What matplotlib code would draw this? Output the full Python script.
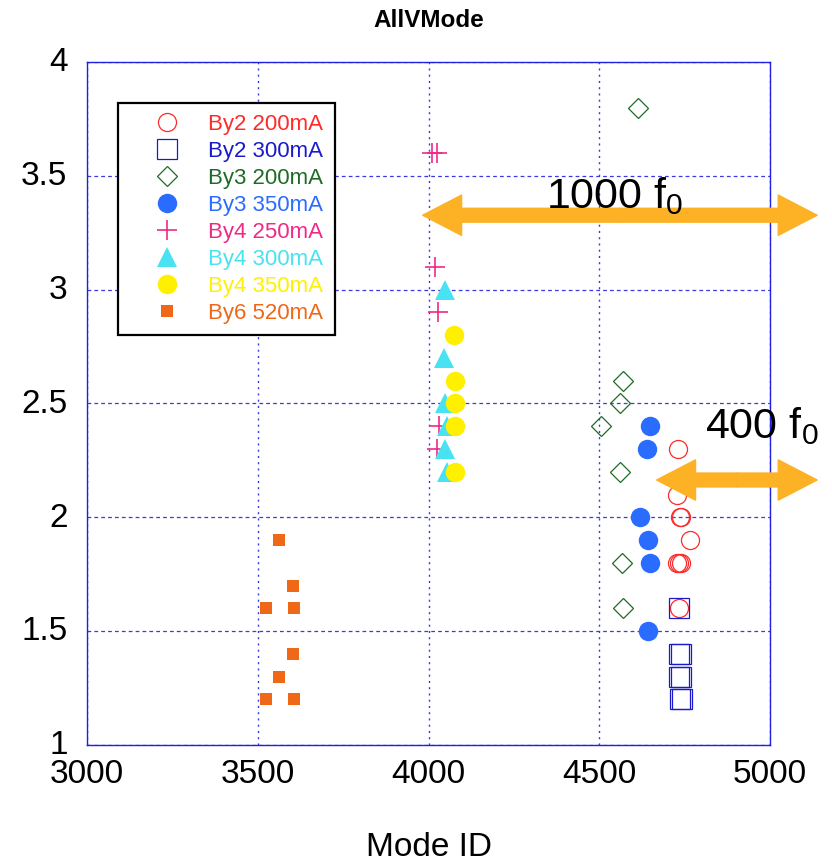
#AllVMode scatter chart
import matplotlib
matplotlib.use("Agg")
import matplotlib.pyplot as plt
from matplotlib.transforms import ScaledTranslation

plt.rcParams['font.family'] = 'Liberation Sans'
plt.rcParams['mathtext.default'] = 'regular'

#Series: (label, x values, y values)
labels = ["By2 200mA", "By2 300mA", "By3 200mA", "By3 350mA",
          "By4 250mA", "By4 300mA", "By4 350mA", "By6 520mA"]

by2_200_x = [4732, 4727, 4735, 4740, 4765, 4728, 4733, 4738, 4733]
by2_200_y = [2.3, 2.1, 2.0, 2.0, 1.9, 1.8, 1.8, 1.8, 1.6]

by2_300_x = [4733, 4733, 4740, 4733, 4738, 4735, 4741]
by2_300_y = [1.6, 1.4, 1.4, 1.3, 1.3, 1.2, 1.2]

by3_200_x = [4614, 4570, 4561, 4505, 4561, 4566, 4570]
by3_200_y = [3.8, 2.6, 2.5, 2.4, 2.2, 1.8, 1.6]

by3_350_x = [4649, 4639, 4619, 4644, 4649, 4644]
by3_350_y = [2.4, 2.3, 2.0, 1.9, 1.8, 1.5]

by4_250_x = [4009, 4024, 4019, 4027, 4032, 4024]
by4_250_y = [3.6, 3.6, 3.1, 2.9, 2.4, 2.3]

by4_300_x = [4048, 4046, 4048, 4053, 4048, 4053]
by4_300_y = [3.0, 2.7, 2.5, 2.4, 2.3, 2.2]

by4_350_x = [4075, 4077, 4078, 4078, 4077]
by4_350_y = [2.8, 2.6, 2.5, 2.4, 2.2]

by6_520_x = [3563, 3602, 3523, 3607, 3602, 3563, 3523, 3607]
by6_520_y = [1.9, 1.7, 1.6, 1.6, 1.4, 1.3, 1.2, 1.2]

xs = [by2_200_x, by2_300_x, by3_200_x, by3_350_x, by4_250_x, by4_300_x, by4_350_x, by6_520_x]
ys = [by2_200_y, by2_300_y, by3_200_y, by3_350_y, by4_250_y, by4_300_y, by4_350_y, by6_520_y]

colors = ["#ff2a2a", "#1a1acc", "#1d6b25", "#2a6cff", "#ee2a86", "#48e2f2", "#fff000", "#ee6818"]
markers = ["o", "s", "D", "o", "+", "^", "o", "s"]
sizes = [13, 14, 10, 14, 14, 14, 14, 9]
filled = [False, False, False, True, True, True, True, True]

x_ticks = [3000, 3500, 4000, 4500, 5000]
y_ticks = [1, 1.5, 2, 2.5, 3, 3.5, 4]
y_tick_labels = ["1", "1.5", "2", "2.5", "3", "3.5", "4"]

#Annotation arrows: left end, right end, y, label and its position
arrow_left = [3983, 4668]
arrow_right = [5138, 5138]
arrow_y = [3.327, 2.164]
arrow_text = ["1000 f$_0$", "400 f$_0$"]
text_x = [4344, 4810]
text_y = [3.358, 2.346]

fig = plt.figure(figsize=(8.32, 8.63), dpi=100)
ax = fig.add_axes([87/832, 1-745/863, 683/832, 683/863])

for i in range(len(labels)):
    if filled[i]:
        ax.plot(xs[i], ys[i], linestyle="none", marker=markers[i], markersize=sizes[i],
                color=colors[i], markeredgewidth=1.2 if markers[i] == "+" else 0, label=labels[i])
    else:
        ax.plot(xs[i], ys[i], linestyle="none", marker=markers[i], markersize=sizes[i],
                markerfacecolor="none", markeredgecolor=colors[i], markeredgewidth=0.9, label=labels[i])

ax.set_xlim(3000, 5000)
ax.set_ylim(1, 4)
ax.set_xticks(x_ticks)
ax.set_yticks(y_ticks)
ax.set_yticklabels(y_tick_labels)
ax.tick_params(axis="both", length=0, labelsize=24)
ax.tick_params(axis="x", pad=10)
ax.tick_params(axis="y", pad=14)
#y labels sit a little above their ticks in the original
for lab in ax.get_yticklabels():
    lab.set_transform(lab.get_transform() + ScaledTranslation(0, 2/72, fig.dpi_scale_trans))

#Grid: dotted verticals, dashed horizontals
ax.xaxis.grid(True, color="#3a3ae0", linestyle=(0, (1.5, 3)), linewidth=1.0)
ax.yaxis.grid(True, color="#3a3ae0", linestyle=(0, (3, 2.5)), linewidth=0.9)
ax.set_axisbelow(True)
for s in ax.spines.values():
    s.set_color("#2020e0")
    s.set_linewidth(1.0)

ax.set_title("AllVMode", fontsize=17.5, fontweight="bold", pad=25)
ax.set_xlabel("Mode ID", fontsize=24, labelpad=30)

#Double headed arrows, each drawn as two halves from the middle
for i in range(len(arrow_y)):
    mid = (arrow_left[i] + arrow_right[i]) / 2
    for end in [arrow_left[i], arrow_right[i]]:
        ax.annotate("", xy=(end, arrow_y[i]), xytext=(mid, arrow_y[i]),
                    arrowprops=dict(arrowstyle="simple,head_length=2.8,head_width=2.9,tail_width=1.0",
                                    color="#fdb125", shrinkA=0, shrinkB=0, mutation_scale=10),
                    annotation_clip=False, zorder=5)
    ax.text(text_x[i], text_y[i], arrow_text[i], fontsize=31, va="baseline", ha="left", zorder=6)

leg = ax.legend(loc="upper left", bbox_to_anchor=(0.0454, 0.940), borderaxespad=0,
                fontsize=16, frameon=True, fancybox=False, edgecolor="black", framealpha=1,
                borderpad=0.5, handlelength=3.37, handletextpad=0.2, labelspacing=0.27,
                numpoints=1)
leg.get_frame().set_linewidth(1.6)
for t, c in zip(leg.get_texts(), colors):
    t.set_color(c)

plt.savefig("out.png", dpi=100)
